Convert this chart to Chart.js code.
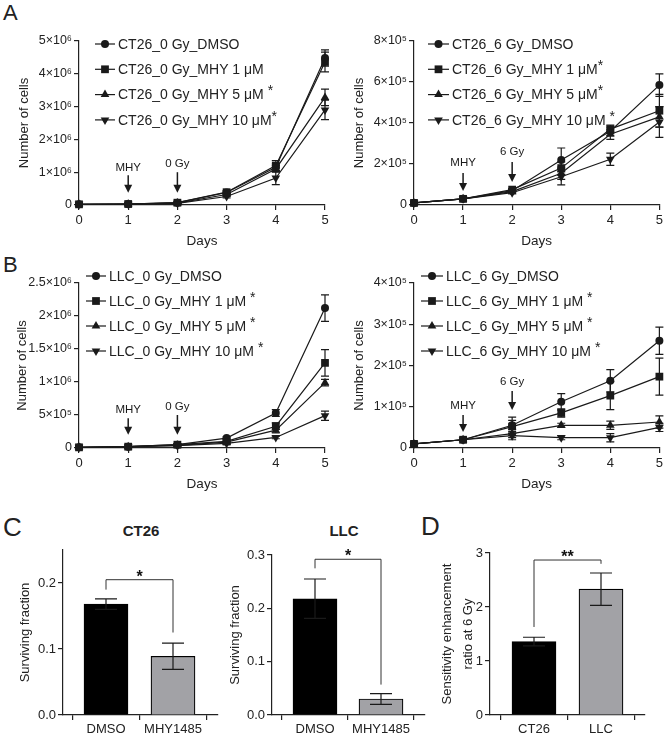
<!DOCTYPE html>
<html>
<head>
<meta charset="utf-8">
<script src="https://cdn.jsdelivr.net/npm/chart.js@4.4.1/dist/chart.umd.min.js"></script>
<style>
body { margin: 0; width: 666px; height: 736px; position: relative; background: #fff; overflow: hidden;
       font-family: "Liberation Sans", Arial, sans-serif; color: #222; }
canvas { position: absolute; }
.tag { position: absolute; line-height: 1; }
</style>
</head>
<body>
<div class="tag" style="left:3px;top:2px;font-size:22px">A</div>
<div class="tag" style="left:3px;top:254px;font-size:22px">B</div>
<div class="tag" style="left:3px;top:514px;font-size:26px">C</div>
<div class="tag" style="left:421px;top:513px;font-size:26px">D</div>
<div class="tag" style="left:111px;top:523px;font-size:15px;font-weight:bold;width:60px;text-align:center">CT26</div>
<div class="tag" style="left:314px;top:523px;font-size:15px;font-weight:bold;width:60px;text-align:center">LLC</div>

<canvas id="ct26_0"></canvas>
<canvas id="ct26_6"></canvas>
<canvas id="llc_0"></canvas>
<canvas id="llc_6"></canvas>
<canvas id="sfCt26"></canvas>
<canvas id="sfLlc"></canvas>
<canvas id="ser"></canvas>

<script>
const FONT = '"Liberation Sans", Arial, sans-serif';
const INK = '#1a1a1a';

// ---- growth curves (panels A, B) ----
const days = [0, 1, 2, 3, 4, 5];

const ct26_0_names = ['CT26_0 Gy_DMSO', 'CT26_0 Gy_MHY 1 μM', 'CT26_0 Gy_MHY 5 μM *', 'CT26_0 Gy_MHY 10 μM*'];
const ct26_0_dmso  = [2e4, 3e4, 7e4, 3.8e5, 1.15e6, 4.48e6];
const ct26_0_mhy1  = [2e4, 3e4, 7e4, 3.9e5, 1.2e6, 4.36e6];
const ct26_0_mhy5  = [2e4, 3e4, 6e4, 3.2e5, 1.1e6, 3.28e6];
const ct26_0_mhy10 = [2e4, 2.5e4, 5e4, 2.6e5, 0.82e6, 2.9e6];
const ct26_0_err = [
  [0, 0, 1e4, 4e4, 1e5, 2.5e5],
  [0, 0, 1e4, 4e4, 1.5e5, 3e5],
  [0, 0, 1e4, 4e4, 1e5, 2.5e5],
  [0, 0, 1e4, 4e4, 2e5, 3e5]
];
const ct26_0_ticks = [0, 1e6, 2e6, 3e6, 4e6, 5e6];
const ct26_0_tickLabels = ['0', '1×10⁶', '2×10⁶', '3×10⁶', '4×10⁶', '5×10⁶'];

const ct26_6_names = ['CT26_6 Gy_DMSO', 'CT26_6 Gy_MHY 1 μM*', 'CT26_6 Gy_MHY 5 μM*', 'CT26_6 Gy_MHY 10 μM *'];
const ct26_6_dmso  = [1e4, 3e4, 7e4, 2.2e5, 3.6e5, 5.85e5];
const ct26_6_mhy1  = [1e4, 3e4, 7.5e4, 1.8e5, 3.7e5, 4.6e5];
const ct26_6_mhy5  = [1e4, 3e4, 6.5e4, 1.55e5, 3.45e5, 4.3e5];
const ct26_6_mhy10 = [1e4, 3e4, 6e4, 1.38e5, 2.23e5, 4.05e5];
const ct26_6_err = [
  [0, 0, 5e3, 5.8e4, 2e4, 5.5e4],
  [0, 0, 5e3, 3e4, 2e4, 8e4],
  [0, 0, 5e3, 3e4, 2.5e4, 5e4],
  [0, 0, 5e3, 4e4, 3e4, 7.5e4]
];
const ct26_6_ticks = [0, 2e5, 4e5, 6e5, 8e5];
const ct26_6_tickLabels = ['0', '2×10⁵', '4×10⁵', '6×10⁵', '8×10⁵'];

const llc_0_names = ['LLC_0 Gy_DMSO', 'LLC_0 Gy_MHY 1 μM *', 'LLC_0 Gy_MHY 5 μM *', 'LLC_0 Gy_MHY 10 μM *'];
const llc_0_dmso  = [1e4, 2e4, 5e4, 1.5e5, 5.3e5, 2.12e6];
const llc_0_mhy1  = [1e4, 2e4, 5e4, 1.0e5, 3.3e5, 1.29e6];
const llc_0_mhy5  = [1e4, 2e4, 4e4, 0.9e5, 2.7e5, 0.99e6];
const llc_0_mhy10 = [1e4, 2e4, 3.5e4, 0.7e5, 1.6e5, 0.49e6];
const llc_0_err = [
  [0, 0, 1e4, 2e4, 5e4, 2e5],
  [0, 0, 1e4, 2e4, 5e4, 2e5],
  [0, 0, 1e4, 2e4, 4e4, 5e4],
  [0, 0, 1e4, 2e4, 2e4, 7e4]
];
const llc_0_ticks = [0, 5e5, 1e6, 1.5e6, 2e6, 2.5e6];
const llc_0_tickLabels = ['0', '5×10⁵', '1×10⁶', '1.5×10⁶', '2×10⁶', '2.5×10⁶'];

const llc_6_names = ['LLC_6 Gy_DMSO', 'LLC_6 Gy_MHY 1 μM *', 'LLC_6 Gy_MHY 5 μM *', 'LLC_6 Gy_MHY 10 μM *'];
const llc_6_dmso  = [1e4, 2e4, 5.5e4, 1.12e5, 1.63e5, 2.6e5];
const llc_6_mhy1  = [1e4, 2e4, 5.2e4, 8.5e4, 1.27e5, 1.73e5];
const llc_6_mhy5  = [1e4, 2e4, 3.5e4, 5.5e4, 5.5e4, 6.3e4];
const llc_6_mhy10 = [1e4, 2e4, 3e4, 2.5e4, 2.5e4, 5e4];
const llc_6_err = [
  [0, 0, 2e4, 2e4, 2.7e4, 3.3e4],
  [0, 0, 1.5e4, 1e4, 3.4e4, 4.5e4],
  [0, 0, 1e4, 5e3, 1e4, 1.5e4],
  [0, 0, 1e4, 5e3, 1e4, 1e4]
];
const llc_6_ticks = [0, 1e5, 2e5, 3e5, 4e5];
const llc_6_tickLabels = ['0', '1×10⁵', '2×10⁵', '3×10⁵', '4×10⁵'];

// treatment arrows: day, tail value, tip value, label value
const ct26_0_arrows = [
  { day: 1, from: 9.1e5, to: 3.7e5, label: 'MHY', at: 1.13e6 },
  { day: 2, from: 1.0e6, to: 3.7e5, label: '0 Gy', at: 1.25e6 }
];
const ct26_6_arrows = [
  { day: 1, from: 1.56e5, to: 6.8e4, label: 'MHY', at: 2.05e5 },
  { day: 2, from: 2.1e5, to: 1.12e5, label: '6 Gy', at: 2.58e5 }
];
const llc_0_arrows = [
  { day: 1, from: 4.5e5, to: 2.0e5, label: 'MHY', at: 5.8e5 },
  { day: 2, from: 5.0e5, to: 2.0e5, label: '0 Gy', at: 6.2e5 }
];
const llc_6_arrows = [
  { day: 1, from: 8.0e4, to: 3.9e4, label: 'MHY', at: 1.02e5 },
  { day: 2, from: 1.38e5, to: 9.2e4, label: '6 Gy', at: 1.6e5 }
];

// ---- bar panels (C, D) ----
const sfGroups = ['DMSO', 'MHY1485'];
const sfCt26 = [0.168, 0.089];
const sfCt26Err = [0.008, 0.020];
const sfLlc = [0.218, 0.030];
const sfLlcErr = [0.037, 0.010];
const sfCt26Ticks = [0, 0.1, 0.2];
const sfLlcTicks = [0, 0.1, 0.2, 0.3];

const serGroups = ['CT26', 'LLC'];
const ser = [1.36, 2.33];
const serErr = [0.08, 0.30];
const serTicks = [0, 1, 2, 3];

const markers = [
  { pointStyle: 'circle', pointRotation: 0, pointRadius: 4 },
  { pointStyle: 'rect', pointRotation: 0, pointRadius: 5.5 },
  { pointStyle: 'triangle', pointRotation: 0, pointRadius: 5 },
  { pointStyle: 'triangle', pointRotation: 180, pointRadius: 5 }
];

// error bars from dataset.err
const errorBarPlugin = {
  id: 'errorBars',
  afterDatasetsDraw(chart, args, o) {
    const { ctx, scales: { y } } = chart;
    ctx.save();
    ctx.strokeStyle = INK;
    ctx.lineWidth = 1.2;
    chart.data.datasets.forEach((ds, i) => {
      if (!ds.err) return;
      chart.getDatasetMeta(i).data.forEach((el, j) => {
        const e = ds.err[j];
        if (!e) return;
        const v = ds.data[j].y;
        const yt = y.getPixelForValue(v + e), yb = y.getPixelForValue(v - e);
        const half = o.cap / 2;
        ctx.beginPath();
        ctx.moveTo(el.x, yt); ctx.lineTo(el.x, yb);
        ctx.moveTo(el.x - half, yt); ctx.lineTo(el.x + half, yt);
        ctx.moveTo(el.x - half, yb); ctx.lineTo(el.x + half, yb);
        ctx.stroke();
      });
    });
    ctx.restore();
  }
};

// legend drawn inside the plot, top left; a trailing '*' is raised a little
const insideLegend = {
  id: 'insideLegend',
  afterDraw(chart, args, o) {
    const { ctx, chartArea: a } = chart;
    ctx.save();
    ctx.font = '14px ' + FONT;
    ctx.textBaseline = 'middle';
    chart.data.datasets.forEach((ds, i) => {
      const y = a.top + o.top + i * o.gap;
      const x0 = a.left + o.left, x1 = x0 + o.seg;
      ctx.strokeStyle = INK;
      ctx.fillStyle = INK;
      ctx.lineWidth = 1.2;
      ctx.beginPath(); ctx.moveTo(x0, y); ctx.lineTo(x1, y); ctx.stroke();
      Chart.helpers.drawPoint(ctx, { pointStyle: ds.pointStyle, rotation: ds.pointRotation,
        radius: ds.pointRadius, borderWidth: 0 }, (x0 + x1) / 2, y);
      ctx.fillStyle = '#222';
      const star = ds.label.endsWith('*');
      const main = star ? ds.label.slice(0, -1) : ds.label;
      ctx.fillText(main, x1 + 3, y + 1);
      if (star) ctx.fillText('*', x1 + 3 + ctx.measureText(main).width, y - 3);
    });
    ctx.restore();
  }
};

// "MHY" / "x Gy" arrows
const arrowPlugin = {
  id: 'arrows',
  afterDatasetsDraw(chart, args, o) {
    const { ctx, scales: { x, y } } = chart;
    ctx.save();
    ctx.fillStyle = INK;
    ctx.strokeStyle = INK;
    ctx.lineWidth = 1.5;
    ctx.font = '11.5px ' + FONT;
    ctx.textAlign = 'center';
    ctx.textBaseline = 'middle';
    o.items.forEach(it => {
      const px = x.getPixelForValue(it.day);
      const y0 = y.getPixelForValue(it.from), y1 = y.getPixelForValue(it.to);
      ctx.fillText(it.label, px, y.getPixelForValue(it.at));
      ctx.beginPath(); ctx.moveTo(px, y0); ctx.lineTo(px, y1 - 6); ctx.stroke();
      ctx.beginPath();
      ctx.moveTo(px - 4, y1 - 8); ctx.lineTo(px + 4, y1 - 8); ctx.lineTo(px, y1);
      ctx.closePath(); ctx.fill();
    });
    ctx.restore();
  }
};

// significance bracket over the two bars
const bracketPlugin = {
  id: 'bracket',
  afterDatasetsDraw(chart, args, o) {
    const { ctx, scales: { x, y } } = chart;
    const xa = x.getPixelForValue(0), xb = x.getPixelForValue(1);
    const yt = y.getPixelForValue(o.top);
    ctx.save();
    ctx.strokeStyle = '#333';
    ctx.lineWidth = 1;
    ctx.beginPath();
    ctx.moveTo(xa, y.getPixelForValue(o.left)); ctx.lineTo(xa, yt);
    ctx.lineTo(xb, yt); ctx.lineTo(xb, y.getPixelForValue(o.right));
    ctx.stroke();
    ctx.fillStyle = '#111';
    ctx.font = 'bold 16px ' + FONT;
    ctx.textAlign = 'center';
    ctx.fillText(o.text, (xa + xb) / 2, yt + 2);
    ctx.restore();
  }
};

// size the canvas and work out padding / axis sizes so the plot area lands where it should
function frame(id, box, area, yTitleX, yLh) {
  const c = document.getElementById(id);
  c.width = box.w; c.height = box.h;
  c.style.left = box.x + 'px'; c.style.top = box.y + 'px';
  const padLeft = yTitleX - box.x - yLh / 2;
  return {
    ctx: c.getContext('2d'),
    padding: { left: padLeft, top: area.top - box.y, right: box.x + box.w - area.right, bottom: 0 },
    yWidth: area.left - box.x - padLeft,
    xHeight: box.y + box.h - area.bottom
  };
}

function axisStyle() {
  return {
    border: { display: true, color: '#222', width: 1.2 },
    grid: { display: true, drawOnChartArea: false, drawTicks: true, tickLength: 5, color: '#222', lineWidth: 1.2 }
  };
}

function growthChart(id, box, area, yTitleX, series, errs, names, yTicks, yLabels, arrows, leg) {
  const f = frame(id, box, area, yTitleX, 15.6);
  return new Chart(f.ctx, {
    type: 'line',
    data: {
      datasets: series.map((s, i) => ({
        label: names[i],
        data: s.map((v, j) => ({ x: days[j], y: v })),
        err: errs[i],
        borderColor: INK,
        backgroundColor: INK,
        pointBackgroundColor: INK,
        pointBorderColor: INK,
        pointBorderWidth: 0,
        borderWidth: 1.2,
        tension: 0,
        clip: false,
        ...markers[i]
      }))
    },
    options: {
      responsive: false,
      animation: false,
      devicePixelRatio: 1,
      layout: { padding: f.padding },
      scales: {
        x: {
          type: 'linear', min: 0, max: 5,
          ...axisStyle(),
          afterBuildTicks: s => { s.ticks = days.map(v => ({ value: v })); },
          afterFit: s => { s.height = f.xHeight; },
          ticks: { color: '#222', font: { size: 13 }, padding: 3, maxRotation: 0 },
          title: { display: true, text: 'Days', color: '#222', font: { size: 13.5 }, padding: 0 }
        },
        y: {
          type: 'linear', min: 0, max: yTicks[yTicks.length - 1],
          ...axisStyle(),
          afterBuildTicks: s => { s.ticks = yTicks.map(v => ({ value: v })); },
          afterFit: s => { s.width = f.yWidth; },
          ticks: { color: '#222', font: { size: 12.5 }, padding: 2, callback: (v, i) => yLabels[i] },
          title: { display: true, text: 'Number of cells', color: '#222', font: { size: 13, lineHeight: 1.2 }, padding: 0 }
        }
      },
      plugins: {
        legend: { display: false },
        tooltip: { enabled: false },
        errorBars: { cap: 8 },
        insideLegend: leg,
        arrows: { items: arrows }
      }
    },
    plugins: [errorBarPlugin, insideLegend, arrowPlugin]
  });
}

function barChart(id, box, area, yTitleX, yLh, groups, values, errs, yTicks, yDigits, yTitle, spacing, bracket) {
  const f = frame(id, box, area, yTitleX, yLh);
  // bar centres sit at 0 and 1; widen the axis so they land like in the figure
  const xMin = -(spacing.first - area.left) / spacing.step;
  const xMax = 1 + (area.right - spacing.first - spacing.step) / spacing.step;
  return new Chart(f.ctx, {
    type: 'bar',
    data: {
      datasets: [{
        data: values.map((v, i) => ({ x: i, y: v })),
        err: errs,
        backgroundColor: ['#000000', '#a2a2a6'],
        borderColor: '#000',
        borderWidth: 1.2,
        barThickness: 44
      }]
    },
    options: {
      responsive: false,
      animation: false,
      devicePixelRatio: 1,
      layout: { padding: f.padding },
      scales: {
        x: {
          type: 'linear', min: xMin, max: xMax, offset: false,
          ...axisStyle(),
          afterBuildTicks: s => { s.ticks = groups.map((g, i) => ({ value: i })); },
          afterFit: s => { s.height = f.xHeight; },
          ticks: { color: '#222', font: { size: 13 }, padding: 2, maxRotation: 0, callback: (v, i) => groups[i] }
        },
        y: {
          type: 'linear', min: 0, max: bracket.yMax,
          ...axisStyle(),
          afterBuildTicks: s => { s.ticks = yTicks.map(v => ({ value: v })); },
          afterFit: s => { s.width = f.yWidth; },
          ticks: { color: '#222', font: { size: 13 }, padding: 2, callback: (v, i) => yTicks[i].toFixed(yDigits) },
          title: { display: true, text: yTitle, color: '#222', font: { size: 13, lineHeight: yLh / 13 }, padding: 0 }
        }
      },
      plugins: {
        legend: { display: false },
        tooltip: { enabled: false },
        errorBars: { cap: 22 },
        bracket: bracket
      }
    },
    plugins: [errorBarPlugin, bracketPlugin]
  });
}

growthChart('ct26_0', { x: 0, y: 20, w: 333, h: 229 }, { left: 79, top: 41, right: 325, bottom: 205 }, 24,
  [ct26_0_dmso, ct26_0_mhy1, ct26_0_mhy5, ct26_0_mhy10], ct26_0_err, ct26_0_names,
  ct26_0_ticks, ct26_0_tickLabels, ct26_0_arrows, { left: 16, top: 3, gap: 25.3, seg: 20 });

growthChart('ct26_6', { x: 333, y: 20, w: 333, h: 229 }, { left: 414, top: 41, right: 661, bottom: 205 }, 359,
  [ct26_6_dmso, ct26_6_mhy1, ct26_6_mhy5, ct26_6_mhy10], ct26_6_err, ct26_6_names,
  ct26_6_ticks, ct26_6_tickLabels, ct26_6_arrows, { left: 14, top: 3, gap: 25.3, seg: 21 });

growthChart('llc_0', { x: 0, y: 258, w: 333, h: 234 }, { left: 79, top: 283, right: 325, bottom: 448 }, 22,
  [llc_0_dmso, llc_0_mhy1, llc_0_mhy5, llc_0_mhy10], llc_0_err, llc_0_names,
  llc_0_ticks, llc_0_tickLabels, llc_0_arrows, { left: 7, top: -7, gap: 25, seg: 20 });

growthChart('llc_6', { x: 333, y: 258, w: 333, h: 234 }, { left: 414, top: 283, right: 661, bottom: 448 }, 359,
  [llc_6_dmso, llc_6_mhy1, llc_6_mhy5, llc_6_mhy10], llc_6_err, llc_6_names,
  llc_6_ticks, llc_6_tickLabels, llc_6_arrows, { left: 7, top: -7, gap: 25, seg: 22 });

barChart('sfCt26', { x: 0, y: 540, w: 225, h: 196 }, { left: 63, top: 550, right: 218, bottom: 715 }, 25, 15.6,
  sfGroups, sfCt26, sfCt26Err, sfCt26Ticks, 1, 'Surviving fraction', { first: 106, step: 67 },
  { yMax: 0.25, top: 0.205, left: 0.19, right: 0.125, text: '*' });

barChart('sfLlc', { x: 225, y: 540, w: 205, h: 196 }, { left: 272, top: 555, right: 425, bottom: 715 }, 235, 15.6,
  sfGroups, sfLlc, sfLlcErr, sfLlcTicks, 1, 'Surviving fraction', { first: 315, step: 66 },
  { yMax: 0.3, top: 0.292, left: 0.275, right: 0.057, text: '*' });

barChart('ser', { x: 430, y: 535, w: 236, h: 201 }, { left: 490, top: 553, right: 645, bottom: 715 }, 447, 21,
  serGroups, ser, serErr, serTicks, 0, ['Sensitivity enhancement', 'ratio at 6 Gy'], { first: 534, step: 67 },
  { yMax: 3, top: 2.87, left: 1.63, right: 2.80, text: '**' });
</script>
</body>
</html>
